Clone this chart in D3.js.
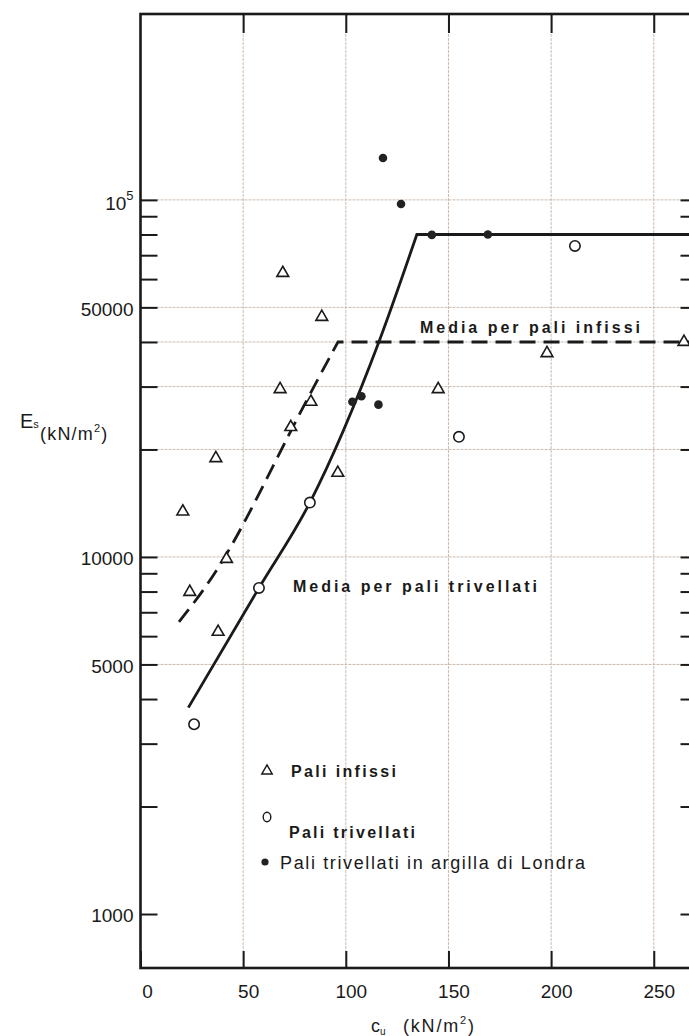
<!DOCTYPE html>
<html>
<head>
<meta charset="utf-8">
<script src="https://cdn.jsdelivr.net/npm/d3@7"></script>
<style>
  html, body { margin: 0; padding: 0; background: #ffffff; }
  svg { display: block; font-family: "Liberation Sans", Arial, Helvetica, sans-serif; }
</style>
</head>
<body>
<svg id="chart" width="689" height="1036"></svg>
<script>
// Axis extents and ticks
const cuDomain = [0, 271.3];
const esDomain = [706, 331600];
const cuTicks = [0, 50, 100, 150, 200, 250];
const esLabelled = [1000, 5000, 10000, 50000, 100000];
const esMinor = [2000, 3000, 4000, 6000, 7000, 8000, 9000, 20000, 30000, 40000, 60000, 70000, 80000, 90000];
const esGrid = [5000, 10000, 20000, 30000, 40000, 50000, 100000];

// Driven piles (triangles)
const infissiCu = [69.3, 88.3, 68.0, 83.0, 73.2, 36.7, 96.1, 20.6, 41.9, 24.0, 37.8, 145.0, 198.0, 264.7];
const infissiEs = [62400, 47000, 29500, 27200, 23100, 18900, 17200, 13400, 9870, 7980, 6170, 29500, 37200, 40000];

// Bored piles (open circles)
const trivellatiCu = [211.6, 155.1, 82.5, 57.7, 26.1];
const trivellatiEs = [74300, 21700, 14200, 8190, 3400];

// Bored piles in London clay (filled dots)
const londraCu = [118.1, 126.9, 141.9, 169.2, 103.2, 107.6, 115.9];
const londraEs = [131000, 97400, 79800, 80000, 27200, 28200, 26700];

// Mean curve for bored piles: rising branch, then plateau
const mediaTrivCu = [23.3, 57.7, 82.5, 116.1, 134.6];
const mediaTrivEs = [3785, 8190, 14200, 40000, 80000];
const plateauTriv = 80000;

// Mean curve for driven piles: rising branch, then plateau
const mediaInfCu = [18.75, 42.0, 73.2, 96.2];
const mediaInfEs = [6580, 9750, 22800, 40000];
const plateauInf = 40000;

const svg = d3.select("#chart");
const plotLeft = 140.5, plotRight = 697.5, plotTop = 14, plotBottom = 968;

const x = d3.scaleLinear().domain(cuDomain).range([plotLeft, plotRight]);
const y = d3.scaleLog().domain(esDomain).range([plotBottom, plotTop]);

const ink = "#1a1a1a";
const gridColor = "#cdbcad";

// Grid
const grid = svg.append("g");
grid.selectAll("line.v").data(cuTicks.slice(1)).join("line").attr("class", "v")
  .attr("x1", d => x(d)).attr("x2", d => x(d))
  .attr("y1", plotTop).attr("y2", plotBottom)
  .attr("stroke", gridColor).attr("stroke-width", 1).attr("stroke-dasharray", "3,1");
grid.selectAll("line.h").data(esGrid).join("line").attr("class", "h")
  .attr("x1", plotLeft).attr("x2", plotRight)
  .attr("y1", d => y(d)).attr("y2", d => y(d))
  .attr("stroke", gridColor).attr("stroke-width", 1).attr("stroke-dasharray", "3,1");

// Axes with inward ticks
const allEs = esLabelled.concat(esMinor);
const fmtEs = d => (d === 100000 ? "" : (esLabelled.includes(d) ? String(d) : ""));

const axL = svg.append("g").attr("transform", `translate(${plotLeft},0)`)
  .call(d3.axisLeft(y).tickValues(allEs).tickFormat(fmtEs).tickSize(-17).tickPadding(7));
const axR = svg.append("g").attr("transform", `translate(${plotRight},0)`)
  .call(d3.axisRight(y).tickValues(allEs).tickFormat("").tickSize(-17));
const axB = svg.append("g").attr("transform", `translate(0,${plotBottom})`)
  .call(d3.axisBottom(x).tickValues(cuTicks).tickFormat(d3.format("d")).tickSize(-17).tickPadding(17));
const axT = svg.append("g").attr("transform", `translate(0,${plotTop})`)
  .call(d3.axisTop(x).tickValues(cuTicks.slice(1)).tickFormat("").tickSize(-19));

[axL, axR, axB, axT].forEach(g => {
  g.select(".domain").remove();
  g.selectAll(".tick line").attr("stroke", ink).attr("stroke-width", 2);
  g.selectAll(".tick text").attr("fill", ink).attr("font-size", 19)
    .attr("font-family", "'Liberation Sans', Arial, sans-serif");
});
axB.selectAll(".tick text").attr("dx", d => (d === 0 ? 6.5 : 5));
axL.selectAll(".tick text").attr("dy", "0.42em");

// 10^5 label with superscript
const sup = axL.selectAll(".tick").filter(d => d === 100000).select("text");
sup.text(null).attr("x", -7).attr("dy", "0.5em");
sup.append("tspan").text("10");
sup.append("tspan").attr("font-size", 13).attr("dy", "-0.75em").text("5");

// Frame
svg.append("rect")
  .attr("x", plotLeft).attr("y", plotTop)
  .attr("width", plotRight - plotLeft).attr("height", plotBottom - plotTop)
  .attr("fill", "none").attr("stroke", ink).attr("stroke-width", 2.6);

// Mean curves
const trivCurve = d3.line().x(d => x(d[0])).y(d => y(d[1])).curve(d3.curveMonotoneX);
const infCurve = d3.line().x(d => x(d[0])).y(d => y(d[1])).curve(d3.curveBasis);
const straight = d3.line().x(d => x(d[0])).y(d => y(d[1]));

const trivPts = d3.zip(mediaTrivCu, mediaTrivEs);
const infPts = d3.zip(mediaInfCu, mediaInfEs);
const trivTail = [trivPts[trivPts.length - 1], [cuDomain[1], plateauTriv]];
const infTail = [infPts[infPts.length - 1], [cuDomain[1], plateauInf]];

const lines = svg.append("g").attr("fill", "none").attr("stroke", ink).attr("stroke-width", 2.8);
lines.append("path").attr("d", trivCurve(trivPts) + straight(trivTail).replace(/^M/, "L"));
lines.append("path").attr("d", infCurve(infPts) + straight(infTail).replace(/^M/, "L"))
  .attr("stroke-dasharray", "16,8");

// Markers
const tri = d3.symbol().type(d3.symbolTriangle).size(60);
svg.append("g").selectAll("path").data(d3.zip(infissiCu, infissiEs)).join("path")
  .attr("d", tri)
  .attr("transform", d => `translate(${x(d[0])},${y(d[1])})`)
  .attr("fill", "#fff").attr("stroke", ink).attr("stroke-width", 1.6);

svg.append("g").selectAll("circle").data(d3.zip(trivellatiCu, trivellatiEs)).join("circle")
  .attr("cx", d => x(d[0])).attr("cy", d => y(d[1])).attr("r", 5.2)
  .attr("fill", "#fff").attr("stroke", ink).attr("stroke-width", 1.6);

svg.append("g").selectAll("circle").data(d3.zip(londraCu, londraEs)).join("circle")
  .attr("cx", d => x(d[0])).attr("cy", d => y(d[1])).attr("r", 4.3)
  .attr("fill", "#222").attr("stroke", "none");

// Curve labels
function label(txt, x0, yb, len, size, weight) {
  return svg.append("text").attr("x", x0).attr("y", yb)
    .attr("font-size", size).attr("font-weight", weight).attr("fill", ink)
    .attr("textLength", len).attr("lengthAdjust", "spacing").text(txt);
}
label("Media per pali infissi", 420, 333, 220, 16, "bold");
label("Media per pali trivellati", 293, 591.5, 244, 16, "bold");

// Legend
svg.append("path").attr("d", d3.symbol().type(d3.symbolTriangle).size(48))
  .attr("transform", "translate(267,771)")
  .attr("fill", "none").attr("stroke", ink).attr("stroke-width", 1.4);
label("Pali infissi", 291, 777, 105, 16, "bold");
svg.append("ellipse").attr("cx", 267).attr("cy", 817).attr("rx", 3.8).attr("ry", 4.8)
  .attr("fill", "none").attr("stroke", ink).attr("stroke-width", 1.4);
label("Pali trivellati", 289, 837.5, 126, 16, "bold");
svg.append("circle").attr("cx", 265).attr("cy", 862).attr("r", 3.6).attr("fill", "#222");
label("Pali trivellati in argilla di Londra", 280, 868.5, 305, 18, "normal");

// Axis titles
const yt = svg.append("text").attr("x", 20).attr("y", 428).attr("fill", ink).attr("font-size", 20);
yt.append("tspan").text("E");
yt.append("tspan").attr("font-size", 11).attr("dy", 0).text("s");
const yu = svg.append("text").attr("x", 40).attr("y", 440).attr("fill", ink).attr("font-size", 18)
  .attr("letter-spacing", 1.2);
yu.append("tspan").text("(kN/m");
yu.append("tspan").attr("font-size", 11).attr("dy", -8).text("2");
yu.append("tspan").attr("dy", 8).text(")");

const xt = svg.append("text").attr("x", 371).attr("y", 1032).attr("fill", ink).attr("font-size", 18);
xt.append("tspan").text("c");
xt.append("tspan").attr("font-size", 10).attr("dy", 3).text("u");
const xu = svg.append("text").attr("x", 403).attr("y", 1032).attr("fill", ink).attr("font-size", 18)
  .attr("letter-spacing", 1.8);
xu.append("tspan").text("(kN/m");
xu.append("tspan").attr("font-size", 11).attr("dy", -8).text("2");
xu.append("tspan").attr("dy", 8).text(")");
</script>
</body>
</html>
